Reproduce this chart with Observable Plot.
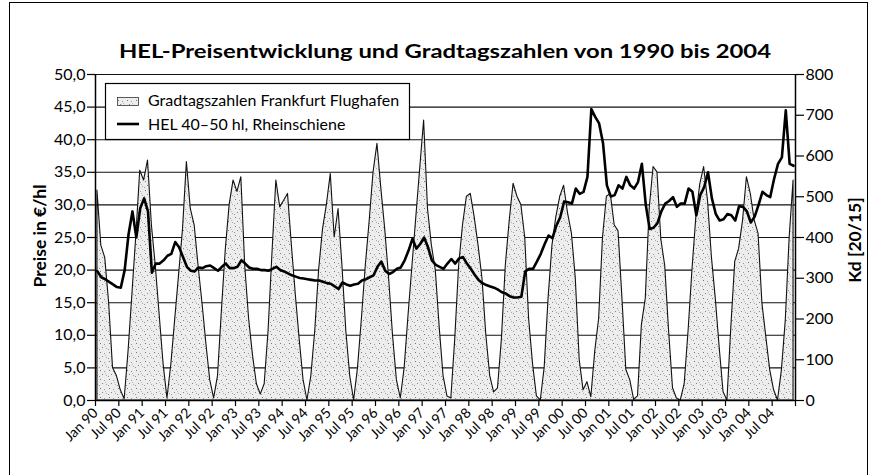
<!DOCTYPE html>
<html><head><meta charset="utf-8">
<script src="https://cdn.jsdelivr.net/npm/d3@7"></script>
<script src="https://cdn.jsdelivr.net/npm/@observablehq/plot@0.6"></script>
<style>
body{margin:0;background:#fff;}
#wrap{position:relative;width:871px;height:475px;overflow:hidden;background:#fff;}
#wrap > svg{position:absolute;left:0;top:0;}
#frame{position:absolute;left:9px;top:2px;width:859px;height:490px;border:1px solid #000;box-sizing:border-box;}
</style></head>
<body><div id="wrap"><div id="frame"></div></div>
<script>
// Monthly values Jan 1990 … Dec 2004
const tickLabels = ["Jan 90","Jul 90","Jan 91","Jul 91","Jan 92","Jul 92","Jan 93","Jul 93","Jan 94","Jul 94","Jan 95","Jul 95","Jan 96","Jul 96","Jan 97","Jul 97","Jan 98","Jul 98","Jan 99","Jul 99","Jan 00","Jul 00","Jan 01","Jul 01","Jan 02","Jul 02","Jan 03","Jul 03","Jan 04","Jul 04"];
// Gradtagszahlen Frankfurt Flughafen, Kd [20/15]
const degreeDays = [
 515,380,350,240, 80, 60, 25,  3,121,262,405,564,
 540,589,430,330,210, 90,  5, 88,199,309,420,585,
 470,430,330,240,140, 50,  5, 60,220,370,480,540,
 512,548,330,200,110, 40, 15, 40,170,360,540,474,
 490,507,380,260,150, 50,  0, 60,170,320,420,480,
 556,400,470,330,170, 60,  0, 80,200,330,440,560,
 630,520,420,300,160, 50,  5, 80,210,330,450,570,
 687,470,380,320,180, 60, 10,  5,150,330,430,500,
 507,450,380,300,160, 60, 20, 30,150,330,440,532,
 500,480,400,200, 90, 10,  0, 80,250,380,450,500,
 527,460,410,300,100, 25, 45,  8,120,200,400,500,
 507,430,415,250, 75, 50,  2, 10,185,250,470,573,
 560,395,330,170, 30,  5,  0, 40,170,320,450,530,
 573,490,352,250,130, 20,  0,180,340,372,440,548,
 507,442,409,237,155, 74, 25,  0, 74,196,400,540
];
// HEL 40–50 hl, Rheinschiene, €/hl
const helPrice = [
 19.8,18.9,18.6,18.2,17.8,17.4,17.3,20.0,25.5,29.0,25.0,29.5,
 31.0,29.0,19.6,21.0,21.0,21.5,22.2,22.5,24.3,23.5,22.0,20.5,
 19.9,19.8,20.4,20.3,20.6,20.7,20.3,19.9,20.5,21.0,20.3,20.3,
 20.5,21.5,21.0,20.4,20.2,20.2,20.0,20.0,19.9,20.2,20.5,20.0,
 19.8,19.5,19.2,19.0,18.8,18.7,18.6,18.5,18.4,18.4,18.2,18.0,
 17.9,17.5,17.1,18.1,17.8,17.6,17.8,17.9,18.4,18.6,18.9,19.2,
 20.5,21.3,19.9,19.4,19.7,20.2,20.4,21.5,23.0,24.8,23.3,24.0,
 25.0,23.5,21.5,20.8,20.5,20.2,21.0,21.7,21.0,21.8,22.0,21.0,
 20.2,19.3,18.5,18.0,17.7,17.5,17.3,17.0,16.6,16.4,16.0,15.8,
 15.8,15.9,19.8,20.2,20.2,21.3,22.5,24.0,25.3,24.9,26.8,28.1,
 30.5,30.4,30.2,32.5,31.7,32.0,34.3,44.7,43.5,42.5,39.5,33.0,
 31.3,31.5,33.0,32.5,34.3,33.0,32.5,33.5,36.3,30.0,26.3,26.5,
 27.2,29.0,30.2,30.6,31.2,29.7,30.2,30.2,32.5,32.0,28.4,31.5,
 32.7,35.0,31.0,28.6,27.6,27.8,28.6,28.4,27.6,29.8,29.7,29.0,
 27.3,28.2,30.0,32.0,31.5,31.2,34.0,36.3,37.3,44.5,36.3,36.0
];
const priceTicks = [0,5,10,15,20,25,30,35,40,45,50];
const kdTicks = [0,100,200,300,400,500,600,700,800];
const kdPerEuro = 800 / 50; // right axis 0–800 Kd matches left axis 0–50 €/hl

const data = degreeDays.map((kd, i) => ({m: i + 0.5, kd: kd / kdPerEuro, price: helPrice[i]}));
const xTicks = tickLabels.map((_, j) => j * 6).concat([180]);

const chart = Plot.plot({
  width: 871, height: 475,
  marginLeft: 95, marginRight: 76, marginTop: 74, marginBottom: 75,
  x: {domain: [0, 180]},
  y: {domain: [0, 50]},
  style: {fontFamily: "Lato, 'Open Sans', sans-serif", fontSize: "15px", color: "#000", background: "transparent", overflow: "visible"},
  marks: [
    Plot.ruleY(priceTicks.slice(1), {stroke: "#111", strokeWidth: 1.1}),
    Plot.areaY(data, {x: "m", y: "kd", fill: "url(#stip)", stroke: "#111", strokeWidth: 1.1}),
    Plot.lineY(data, {x: "m", y: "price", stroke: "#000", strokeWidth: 2.6, strokeLinejoin: "round"}),
    Plot.ruleX([0, 180], {stroke: "#000", strokeWidth: 1.5}),
    Plot.ruleY([0], {stroke: "#000", strokeWidth: 1.5}),
    Plot.axisY(priceTicks, {anchor: "left", tickSize: 8, tickPadding: 2, tickFormat: d => d.toFixed(1).replace(".", ","), label: null, fontSize: 16, strokeWidth: 1.2}),
    Plot.axisY(kdTicks.map(k => k / kdPerEuro), {anchor: "right", tickSize: 8, tickPadding: 2, tickFormat: d => String(Math.round(d * kdPerEuro)), label: null, fontSize: 16, strokeWidth: 1.2}),
    Plot.axisX(xTicks, {anchor: "bottom", tickSize: 6, tickPadding: 4, tickRotate: -45, tickFormat: d => d < 180 ? tickLabels[d / 6] : "", label: null, fontSize: 14, strokeWidth: 1.2})
  ]
});
d3.select(chart).insert("defs", ":first-child").html(
  `<pattern id="stip" width="9" height="9" patternUnits="userSpaceOnUse">
     <rect width="9" height="9" fill="#ededed"/>
     <rect x="1" y="1" width="1" height="1" fill="#777"/>
     <rect x="5" y="2" width="1" height="1" fill="#999"/>
     <rect x="3" y="5" width="1" height="1" fill="#888"/>
     <rect x="7" y="6" width="1" height="1" fill="#aaa"/>
     <rect x="0" y="7" width="1" height="1" fill="#999"/>
     <rect x="6" y="4" width="1" height="1" fill="#bbb"/>
   </pattern>`);
document.getElementById("wrap").appendChild(chart);

// overlay: title, axis titles, legend
const ov = d3.select("#wrap").append("svg").attr("width", 871).attr("height", 475)
  .style("font-family", "Lato, 'Open Sans', sans-serif");
ov.append("text").attr("x", 445).attr("y", 58).attr("text-anchor", "middle")
  .attr("font-weight", "bold").attr("font-size", 19).attr("textLength", 652).attr("lengthAdjust", "spacingAndGlyphs")
  .text("HEL-Preisentwicklung und Gradtagszahlen von 1990 bis 2004");
ov.append("text").attr("transform", "translate(46,236) rotate(-90)").attr("text-anchor", "middle")
  .attr("font-weight", "bold").attr("font-size", 17.5).text("Preise in €/hl");
ov.append("text").attr("transform", "translate(861,240) rotate(-90)").attr("text-anchor", "middle")
  .attr("font-weight", "bold").attr("font-size", 17.5).text("Kd [20/15]");
const lg = ov.append("g");
lg.append("rect").attr("x", 105.5).attr("y", 83.5).attr("width", 304).attr("height", 56)
  .attr("fill", "#fff").attr("stroke", "#000").attr("stroke-width", 1.2);
lg.append("rect").attr("x", 117.5).attr("y", 97.5).attr("width", 21).attr("height", 8)
  .attr("fill", "url(#stip)").attr("stroke", "#333").attr("stroke-width", 0.8);
lg.append("text").attr("x", 148).attr("y", 106).attr("font-size", 16).text("Gradtagszahlen Frankfurt Flughafen");
lg.append("line").attr("x1", 117).attr("x2", 139).attr("y1", 124).attr("y2", 124)
  .attr("stroke", "#000").attr("stroke-width", 2.6);
lg.append("text").attr("x", 148).attr("y", 130).attr("font-size", 16).text("HEL 40–50 hl, Rheinschiene");
</script></body></html>
